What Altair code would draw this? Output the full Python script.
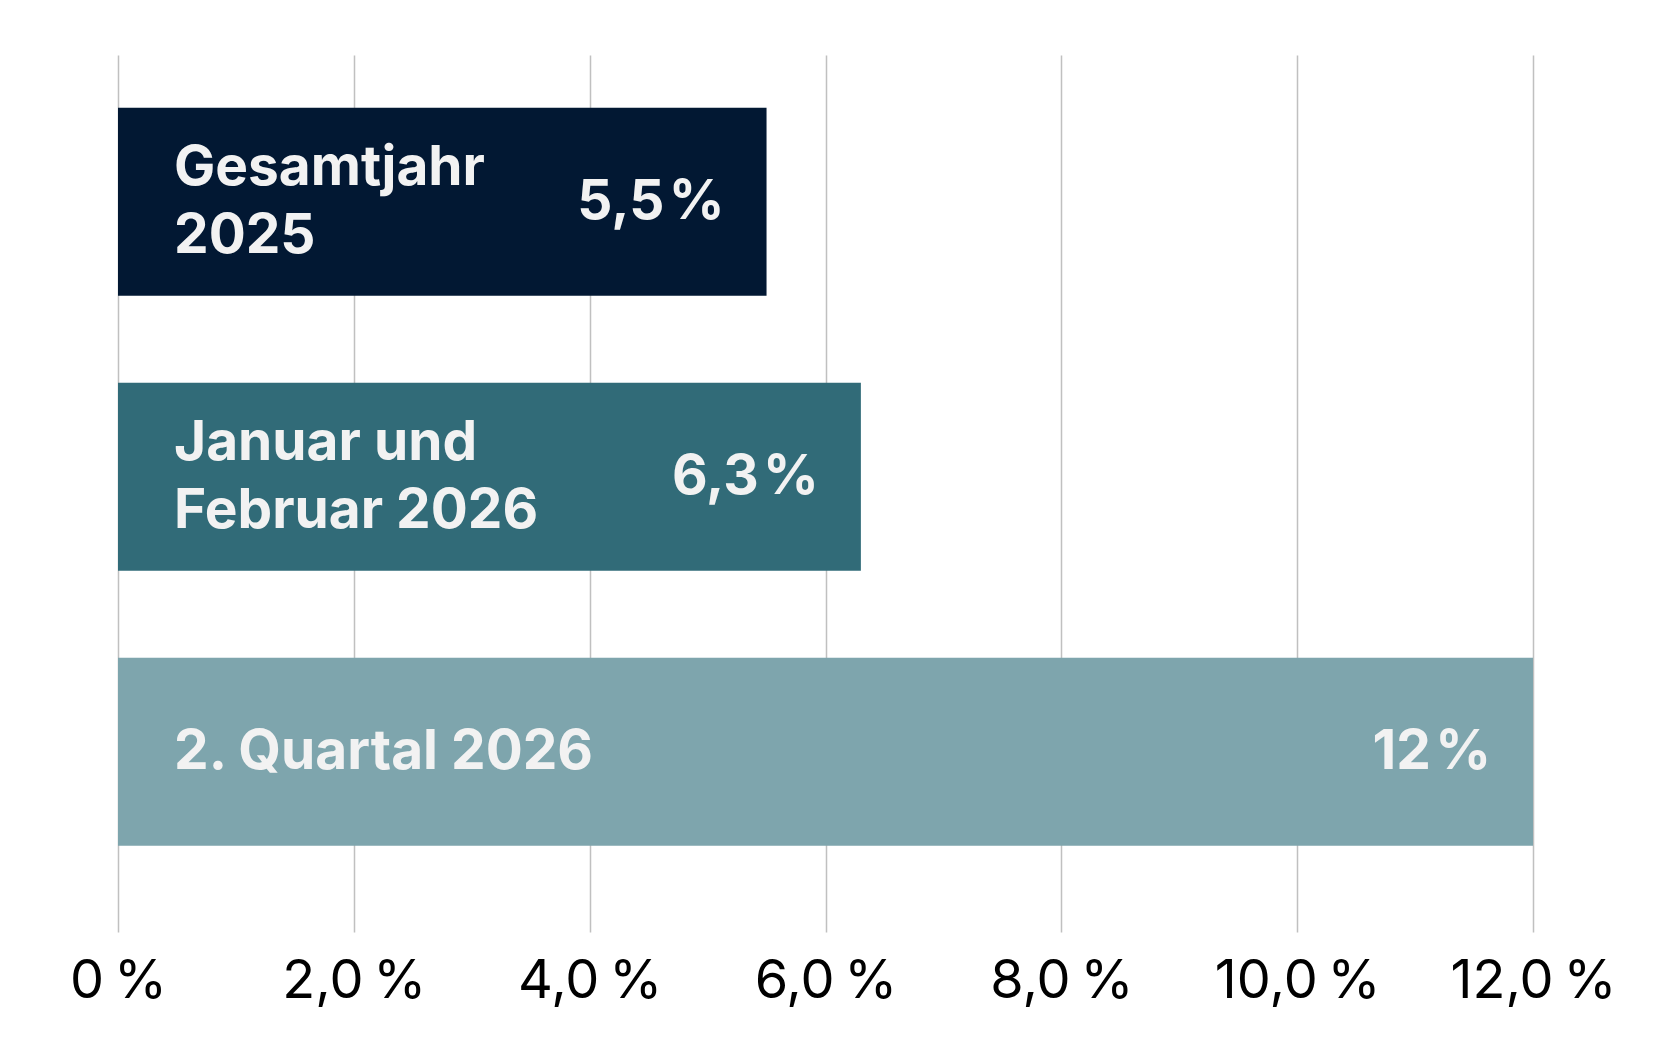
import altair as alt
import pandas as pd

# Data
categories = ["Gesamtjahr\n2025", "Januar und\nFebruar 2026", "2. Quartal 2026"]
values = [5.5, 6.3, 12.0]
value_labels = ["5,5\u200a%", "6,3\u200a%", "12\u200a%"]
bar_colors = ["#021833", "#316b78", "#7ea5ad"]
tick_values = [0, 2, 4, 6, 8, 10, 12]

df = pd.DataFrame({"kategorie": categories, "wert": values, "label": value_labels})

FONT = "Inter"
TEXT_COLOR = "#f2f2f2"
LINE_HEIGHT = 68

y_enc = alt.Y(
    "kategorie:N",
    sort=categories,
    axis=None,
    scale=alt.Scale(paddingInner=0.316, paddingOuter=0.2525, align=0.379),
)

base = alt.Chart(df).encode(y=y_enc)

bars = base.mark_bar().encode(
    x=alt.X(
        "wert:Q",
        title=None,
        scale=alt.Scale(domain=[0, 12], nice=False),
        axis=alt.Axis(
            values=tick_values,
            labelExpr="datum.value == 0 ? '0\u202f%' : replace(format(datum.value, '.1f'), '.', ',') + '\u202f%'",
            labelFont=FONT,
            labelFontSize=54,
            labelColor="#000000",
            labelPadding=22,
            labelFlush=False,
            labelOverlap=False,
            ticks=False,
            domain=False,
            grid=True,
            gridColor="#c0c0c0",
            gridWidth=1.5,
        ),
    ),
    color=alt.Color(
        "kategorie:N",
        scale=alt.Scale(domain=categories, range=bar_colors),
        legend=None,
    ),
)

name_style = dict(
    align="left",
    baseline="middle",
    dx=56,
    font=FONT,
    fontSize=55,
    fontWeight="bold",
    color=TEXT_COLOR,
    lineBreak="\n",
    lineHeight=LINE_HEIGHT,
)

# category names inside the bars (two-line ones shifted up to centre the block)
names_two = (
    base.transform_filter("indexof(datum.kategorie, '\\n') >= 0")
    .mark_text(dy=-LINE_HEIGHT / 2, **name_style)
    .encode(x=alt.datum(0), text="kategorie:N")
)
names_one = (
    base.transform_filter("indexof(datum.kategorie, '\\n') < 0")
    .mark_text(**name_style)
    .encode(x=alt.datum(0), text="kategorie:N")
)

# values at the bar ends
numbers = base.mark_text(
    align="right",
    baseline="middle",
    dx=-42,
    font=FONT,
    fontSize=55,
    fontWeight="bold",
    color=TEXT_COLOR,
).encode(x="wert:Q", text="label:N")

chart = (
    alt.layer(bars, names_two, names_one, numbers)
    .properties(
        width=1415,
        height=877,
        background="white",
        autosize=alt.AutoSizeParams(type="none"),
        padding={"left": 110, "top": 47, "right": 127, "bottom": 100},
    )
    .configure_view(strokeWidth=0, stroke=None)
)

chart.save("out.html", embed_options={"renderer": "svg", "actions": False})
